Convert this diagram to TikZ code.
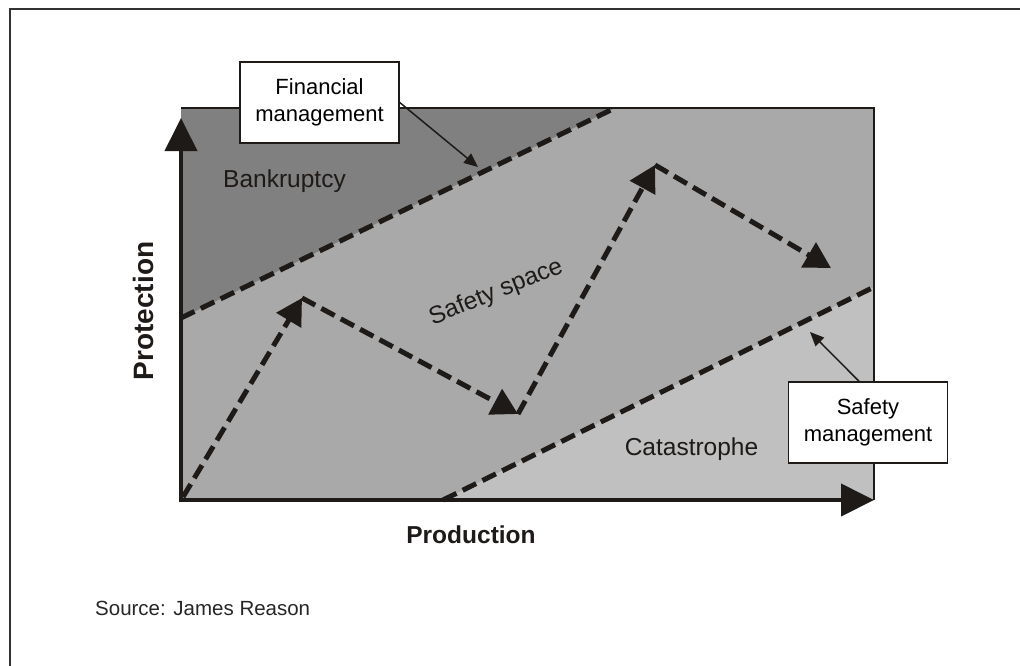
\documentclass[tikz,border=0pt]{standalone}
\usepackage{fontspec}
\setmainfont{Liberation Sans}
\usetikzlibrary{arrows.meta,calc}
\definecolor{bankgray}{HTML}{808080}
\definecolor{safegray}{HTML}{A9A9A9}
\definecolor{catgray}{HTML}{C0C0C0}
\definecolor{inkblack}{HTML}{1E1A18}
\tikzset{
    labelbox/.style = {draw=inkblack, fill=white, line width=1.5pt,
        minimum width=159pt, minimum height=81pt, inner sep=0pt,
        align=center, font=\fontsize{22}{27}\selectfont},
    region/.style = {text=inkblack, anchor=base, inner sep=0pt,
        font=\fontsize{24.5}{28}\selectfont},
    axislabel/.style = {text=inkblack, anchor=base, inner sep=0pt},
    axis/.style = {draw=inkblack, line width=4pt, -{Triangle[length=33pt,width=32pt]}},
    borderline/.style = {draw=inkblack, line width=5pt, dash pattern=on 15pt off 7pt},
    patharrow/.style = {borderline, -{Triangle[length=26pt,width=28pt]}},
    pointer/.style = {draw=inkblack, line width=1.5pt, -{Triangle[length=14pt,width=12pt]}}
}

\begin{document}
\begin{tikzpicture}[x=1pt,y=-1pt]
        \useasboundingbox (0,0) rectangle (1020,665);
        % outer frame
        \draw[line width=1.5pt, draw=black!80] (10,670) -- (10,9) -- (1025,9);
        % the three regions
        \fill[safegray] (181,108) rectangle (874,500);
        \fill[bankgray] (181,108) -- (615,108) -- (181,318) -- cycle;
        \fill[catgray] (443,500) -- (874,287) -- (874,500) -- cycle;
        \draw[inkblack, line width=2pt] (181,108) -- (874,108) -- (874,500);
        % boundaries
        \coordinate (finA) at (181,318);
        \coordinate (finB) at (615,108);
        \coordinate (safA) at (443,500);
        \coordinate (safB) at (874,287);
        \draw[borderline] (finA) -- (finB);
        \draw[borderline] (safA) -- (safB);
        % axes
        \coordinate (origin) at (181,500);
        \coordinate (ytip) at (181,118);
        \coordinate (xtip) at (874,500);
        \draw[axis] ($(origin)+(0,2)$) -- (ytip);
        \draw[axis] ($(origin)+(-2,0)$) -- (xtip);
        % drift path
        \coordinate (p0) at (183,497);
        \coordinate (p1) at (302,298);
        \coordinate (p2) at (518,414);
        \coordinate (p3) at (655,165);
        \coordinate (p4) at (831,268);
        \draw[patharrow] (p0) -- (p1);
        \draw[patharrow] (p1) -- (p2);
        \draw[patharrow] (p2) -- (p3);
        \draw[patharrow] (p3) -- (p4);
        % region labels
        \node[region] (bank) at (284.5,187) {Bankruptcy};
        \node[region, rotate=22] (space) at (498.5,298.5) {Safety space};
        \node[region] (cat) at (691.5,455) {Catastrophe};
        % axis labels
        \node[axislabel, font=\fontsize{24.5}{28}\selectfont\bfseries] (prod) at (471,543) {Production};
        \node[axislabel, rotate=90, font=\fontsize{28}{32}\selectfont\bfseries] (prot) at (153.5,311) {Protection};
        % management boxes
        \node[labelbox] (finbox) at (319.5,102.5) {Financial\\management};
        \node[labelbox] (safbox) at (868,422.5) {Safety\\management};
        \coordinate (finpt) at (478,167);
        \coordinate (safpt) at (810,332);
        \draw[pointer] (finbox.east) -- (finpt);
        \draw[pointer] (safbox.north -| 859,0) -- (safpt);
        % source
        \node[anchor=base west, inner sep=0pt, text=black!85, font=\fontsize{20.5}{24}\selectfont] (src) at (95,615) {Source: James Reason};
    \end{tikzpicture}
\end{document}
